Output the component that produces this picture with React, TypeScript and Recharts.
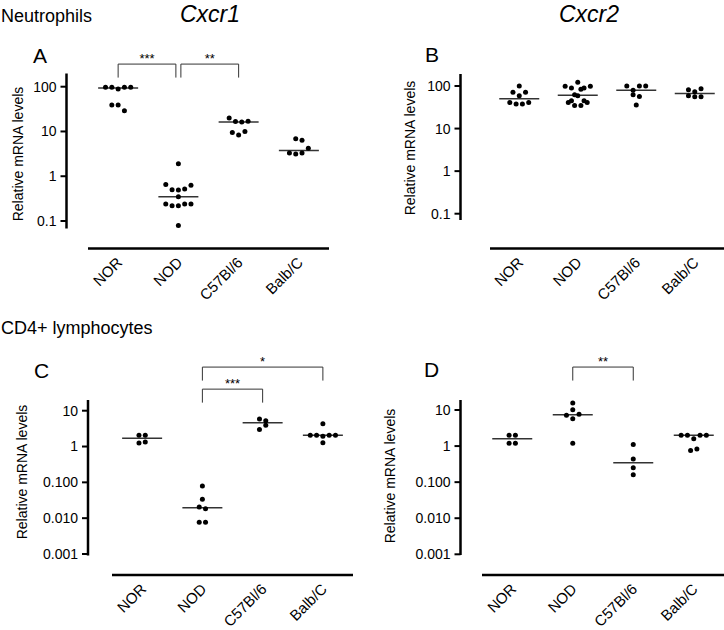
import { ScatterChart, Scatter, XAxis, YAxis, ReferenceLine } from "recharts"

const FONT = "'Liberation Sans', Arial, Helvetica, sans-serif"

const strains = ["NOR", "NOD", "C57Bl/6", "Balb/C"]

// values per strain, in the left-to-right order they sit in each row of dots
const neutroCxcr1 = [
  [97, 97, 89, 97, 97, 39, 39, 29],
  [1.9, 0.65, 0.5, 0.49, 0.52, 0.63, 0.35, 0.24, 0.22, 0.22, 0.24, 0.24, 0.079],
  [20, 16.7, 16.2, 17, 9.5, 8.3, 10],
  [6.9, 6.4, 3.3, 3.15, 3.3, 4.2],
]
const neutroCxcr2 = [
  [100, 71, 59, 71, 41, 38, 38, 41],
  [98, 90, 122, 90, 98, 62.5, 84, 45, 59, 45, 41, 35, 35, 41],
  [100, 80, 100, 100, 62.5, 57, 36],
  [82, 73.5, 86.5, 59, 56, 56],
]
const cd4Cxcr1 = [
  [2.05, 2.05, 1.25, 1.34],
  [0.079, 0.0336, 0.0205, 0.0184, 0.0077, 0.0077],
  [5.85, 5.25, 3.0, 3.9],
  [4.33, 2.05, 2.05, 1.93, 2.05, 2.05, 1.28],
]
const cd4Cxcr2 = [
  [2.0, 2.0, 1.19, 1.19],
  [15.7, 7.1, 10.2, 7.6, 5.75, 1.19],
  [1.1, 0.44, 0.25, 0.161],
  [2.0, 2.0, 1.6, 2.0, 2.0, 0.75, 0.83],
]

const ticksNeutro = [0.1, 1, 10, 100]
const tickLabelsNeutro = ["0.1", "1", "10", "100"]
const ticksCd4 = [0.001, 0.01, 0.1, 1, 10]
const tickLabelsCd4 = ["0.001", "0.010", "0.100", "1", "10"]

// significance brackets: strain index from/to, bracket height (data units), stars
const sigA = [
  { from: 0, to: 1, top: 320, text: "***" },
  { from: 1, to: 2, top: 320, text: "**" },
]
const sigB: typeof sigA = []
const sigC = [
  { from: 1, to: 2, top: 40, text: "***" },
  { from: 1, to: 3, top: 165, text: "*" },
]
const sigD = [{ from: 1, to: 2, top: 155, text: "**" }]

type Geo = {
  axisX: number
  axisTop: number
  axisBottom: number
  hiVal: number
  hiPx: number
  loVal: number
  loPx: number
  plotTop: number
  lineY: number
  lineStart: number
  lineEnd: number
}

const Y_W = 60
const X_H = 40
const DOT_STEP = 6.3
const MEDIAN_HALF = 20
const LEG = 13.5

function median(v: number[]) {
  const s = [...v].sort((a, b) => a - b)
  const m = Math.floor(s.length / 2)
  return s.length % 2 ? s[m] : (s[m - 1] + s[m]) / 2
}

// GraphPad-like rows: points close in log value share a row and are spread sideways
function swarm(values: number[], tol: number) {
  const order = values.map((v, i) => ({ i, l: Math.log10(v) })).sort((a, b) => b.l - a.l)
  const offs = new Array(values.length).fill(0)
  let k = 0
  while (k < order.length) {
    const start = order[k].l
    const row: number[] = []
    while (k < order.length && start - order[k].l <= tol) {
      row.push(order[k].i)
      k++
    }
    row.sort((a, b) => a - b)
    row.forEach((idx, j) => {
      offs[idx] = (j - (row.length - 1) / 2) * DOT_STEP
    })
  }
  return offs
}

const Dot = (props: any) => <circle cx={props.cx} cy={props.cy} r={2.5} fill="#000" />

function Panel({ data, ticks, tickLabels, sig, g }: {
  data: number[][]
  ticks: number[]
  tickLabels: string[]
  sig: { from: number; to: number; top: number; text: string }[]
  g: Geo
}) {
  const decade = (g.loPx - g.hiPx) / (Math.log10(g.hiVal) - Math.log10(g.loVal))
  const valAt = (px: number) => Math.pow(10, Math.log10(g.hiVal) - (px - g.hiPx) / decade)
  const yMin = valAt(g.lineY)
  const yMax = valAt(g.plotTop)
  const sp = (g.lineEnd - g.lineStart) / 4
  const xMin = -0.5 - (g.lineStart - g.axisX) / sp
  const tol = 6 / decade

  const points = data.flatMap((vals, gi) => {
    const offs = swarm(vals, tol)
    return vals.map((v, j) => ({ x: gi + offs[j] / sp, y: v }))
  })
  const medians = data.map(median)
  const legFactor = Math.pow(10, LEG / decade)
  const inset = 2.5 / sp

  const StrainTick = (props: any) => {
    const { x, y, payload } = props
    return (
      <text
        transform={`translate(${x + 5},${y + 15}) rotate(-45)`}
        textAnchor="end"
        fontSize={15}
        fontFamily={FONT}
        fill="#000"
      >
        {strains[payload.value]}
      </text>
    )
  }

  return (
    <div style={{ position: "absolute", left: 0, top: 0 }}>
      <ScatterChart
        width={724}
        height={630}
        margin={{
          top: g.plotTop,
          left: g.axisX - Y_W,
          right: 724 - g.lineEnd,
          bottom: 630 - g.lineY - X_H,
        }}
      >
        <XAxis
          type="number"
          dataKey="x"
          domain={[xMin, 3.5]}
          allowDataOverflow
          ticks={[0, 1, 2, 3]}
          axisLine={false}
          tickLine={false}
          tickSize={0}
          tickMargin={0}
          height={X_H}
          tick={<StrainTick />}
        />
        <YAxis
          type="number"
          dataKey="y"
          scale="log"
          domain={[yMin, yMax]}
          allowDataOverflow
          ticks={ticks}
          width={Y_W}
          axisLine={false}
          tickLine={{ stroke: "#000", strokeWidth: 2 }}
          tickSize={6}
          tickMargin={4}
          tick={{ fontSize: 14, fill: "#000", fontFamily: FONT }}
          tickFormatter={(v: number) => {
            const i = ticks.findIndex((t) => Math.abs(t - v) / t < 1e-6)
            return i >= 0 ? tickLabels[i] : ""
          }}
        />
        <ReferenceLine
          segment={[{ x: xMin, y: valAt(g.axisBottom) }, { x: xMin, y: valAt(g.axisTop) }]}
          stroke="#000"
          strokeWidth={2.5}
          ifOverflow="visible"
        />
        <ReferenceLine
          segment={[{ x: -0.5, y: yMin }, { x: 3.5, y: yMin }]}
          stroke="#000"
          strokeWidth={2.5}
          ifOverflow="visible"
        />
        {medians.map((m, gi) => (
          <ReferenceLine
            key={`med-${gi}`}
            segment={[{ x: gi - MEDIAN_HALF / sp, y: m }, { x: gi + MEDIAN_HALF / sp, y: m }]}
            stroke="#333"
            strokeWidth={1.5}
            ifOverflow="visible"
          />
        ))}
        {sig.map((s, si) => {
          const shared = (idx: number, self: number) =>
            sig.some((o, oi) => oi !== self && o.top === s.top && (o.from === idx || o.to === idx))
          const x1 = s.from + (shared(s.from, si) ? inset : 0)
          const x2 = s.to - (shared(s.to, si) ? inset : 0)
          const leg = s.top / legFactor
          return [
            <ReferenceLine
              key={`sig-t-${si}`}
              segment={[{ x: x1, y: s.top }, { x: x2, y: s.top }]}
              stroke="#333"
              strokeWidth={1}
              ifOverflow="visible"
              label={{ value: s.text, position: "top", offset: 1, fontSize: 13, fill: "#000", fontFamily: FONT }}
            />,
            <ReferenceLine
              key={`sig-l-${si}`}
              segment={[{ x: x1, y: s.top }, { x: x1, y: leg }]}
              stroke="#333"
              strokeWidth={1}
              ifOverflow="visible"
            />,
            <ReferenceLine
              key={`sig-r-${si}`}
              segment={[{ x: x2, y: s.top }, { x: x2, y: leg }]}
              stroke="#333"
              strokeWidth={1}
              ifOverflow="visible"
            />,
          ]
        })}
        <Scatter data={points} shape={<Dot />} isAnimationActive={false} />
      </ScatterChart>
    </div>
  )
}

const geoA: Geo = { axisX: 66.5, axisTop: 73.5, axisBottom: 228.5, hiVal: 100, hiPx: 86.7, loVal: 0.1, loPx: 221, plotTop: 40, lineY: 248.5, lineStart: 88, lineEnd: 329 }
const geoB: Geo = { axisX: 460.5, axisTop: 74, axisBottom: 220, hiVal: 100, hiPx: 86, loVal: 0.1, loPx: 213.7, plotTop: 40, lineY: 248.5, lineStart: 490, lineEnd: 724 }
const geoC: Geo = { axisX: 88, axisTop: 400, axisBottom: 555.5, hiVal: 10, hiPx: 410.7, loVal: 0.001, loPx: 554, plotTop: 345, lineY: 575, lineStart: 112, lineEnd: 353 }
const geoD: Geo = { axisX: 460.5, axisTop: 400, axisBottom: 555, hiVal: 10, hiPx: 410, loVal: 0.001, loPx: 554.3, plotTop: 345, lineY: 575, lineStart: 482, lineEnd: 724 }

const yLabel = "Relative mRNA levels"

export default function App() {
  return (
    <div style={{ position: "relative", width: 724, height: 630, background: "#fff", overflow: "hidden" }}>
      <style>{"body{margin:0}"}</style>
      <Panel data={neutroCxcr1} ticks={ticksNeutro} tickLabels={tickLabelsNeutro} sig={sigA} g={geoA} />
      <Panel data={neutroCxcr2} ticks={ticksNeutro} tickLabels={tickLabelsNeutro} sig={sigB} g={geoB} />
      <Panel data={cd4Cxcr1} ticks={ticksCd4} tickLabels={tickLabelsCd4} sig={sigC} g={geoC} />
      <Panel data={cd4Cxcr2} ticks={ticksCd4} tickLabels={tickLabelsCd4} sig={sigD} g={geoD} />
      <svg width={724} height={630} style={{ position: "absolute", left: 0, top: 0, pointerEvents: "none" }} fontFamily={FONT} fill="#000">
        <text x={1} y={22} fontSize={18}>Neutrophils</text>
        <text x={210} y={22} fontSize={23} fontStyle="italic" textAnchor="middle">Cxcr1</text>
        <text x={589} y={22} fontSize={23} fontStyle="italic" textAnchor="middle">Cxcr2</text>
        <text x={33} y={63} fontSize={21}>A</text>
        <text x={425} y={62} fontSize={21}>B</text>
        <text x={1} y={334} fontSize={18}>CD4+ lymphocytes</text>
        <text x={34} y={378} fontSize={21}>C</text>
        <text x={424} y={377} fontSize={21}>D</text>
        <text transform="translate(23,154) rotate(-90)" fontSize={14} textAnchor="middle">{yLabel}</text>
        <text transform="translate(415,148) rotate(-90)" fontSize={14} textAnchor="middle">{yLabel}</text>
        <text transform="translate(27,472) rotate(-90)" fontSize={14} textAnchor="middle">{yLabel}</text>
        <text transform="translate(395,476) rotate(-90)" fontSize={14} textAnchor="middle">{yLabel}</text>
      </svg>
    </div>
  )
}
